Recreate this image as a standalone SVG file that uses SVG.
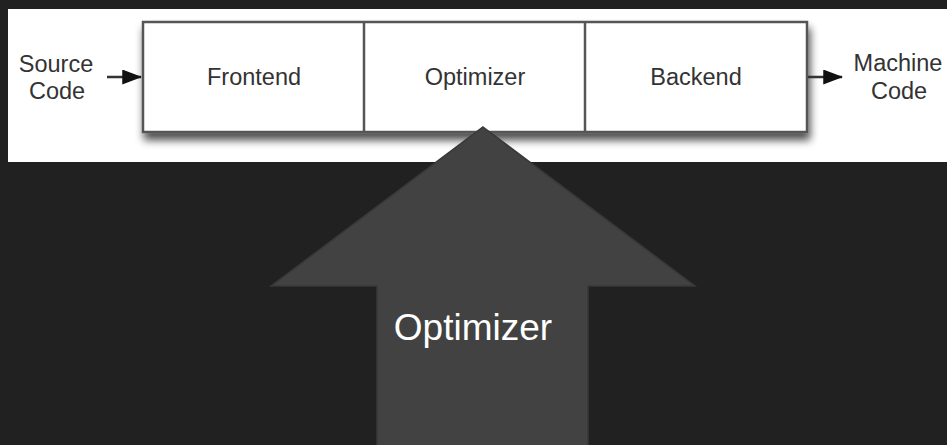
<svg xmlns="http://www.w3.org/2000/svg" width="947" height="445" viewBox="0 0 947 445">
  <defs>
    <style>
      .lbl { font-family: "Liberation Sans", Arial, sans-serif; font-size: 23.5px; fill: #333; text-anchor: middle; }
      .stage { fill: #fff; stroke: #555; stroke-width: 2.5; }
      .div { stroke: #555; stroke-width: 2.5; }
      .flow { stroke: #333; stroke-width: 2.5; fill: none; }
      .big { font-family: "Liberation Sans", Arial, sans-serif; font-size: 37px; fill: #fff; text-anchor: middle; }
    </style>
    <filter id="shadow" x="-5%" y="-20%" width="110%" height="160%">
      <feGaussianBlur in="SourceAlpha" stdDeviation="4"/>
      <feOffset dx="2" dy="7" result="b"/>
      <feComponentTransfer><feFuncA type="linear" slope="0.7"/></feComponentTransfer>
      <feMerge><feMergeNode/><feMergeNode in="SourceGraphic"/></feMerge>
    </filter>
    <marker id="head" markerWidth="8" markerHeight="6" refX="7.5" refY="3" orient="auto" markerUnits="strokeWidth">
      <path d="M0,0 L8,3 L0,6 Z" fill="#111"/>
    </marker>
  </defs>

  <rect width="947" height="445" fill="#212121"/>
  <!-- pipeline panel -->
  <rect x="8" y="9" width="939" height="153" fill="#fff"/>

  <g id="pipeline" filter="url(#shadow)">
    <rect class="stage" x="143" y="22" width="664" height="110"/>
  </g>
  <line class="div" x1="364" y1="22" x2="364" y2="132"/>
  <line class="div" x1="585" y1="22" x2="585" y2="132"/>

  <g id="frontend"><text class="lbl" x="254" y="85">Frontend</text></g>
  <g id="optimizer-stage"><text class="lbl" x="475" y="85">Optimizer</text></g>
  <g id="backend"><text class="lbl" x="696" y="85">Backend</text></g>

  <g id="source">
    <text class="lbl" x="56" y="72">Source</text>
    <text class="lbl" x="57" y="99">Code</text>
  </g>
  <g id="machine">
    <text class="lbl" x="898" y="71">Machine</text>
    <text class="lbl" x="899" y="99">Code</text>
  </g>

  <g id="connectors">
    <line class="flow" x1="107" y1="77" x2="141" y2="77" marker-end="url(#head)"/>
    <line class="flow" x1="808" y1="77" x2="842" y2="77" marker-end="url(#head)"/>
  </g>

  <!-- big upward arrow -->
  <g id="optimizer-arrow">
    <polygon points="483,127 695,286 588,286 588,446 377,446 377,286 271,286" fill="#424242" stroke="#383838" stroke-width="1.5"/>
    <text class="big" x="473" y="340">Optimizer</text>
  </g>
</svg>
